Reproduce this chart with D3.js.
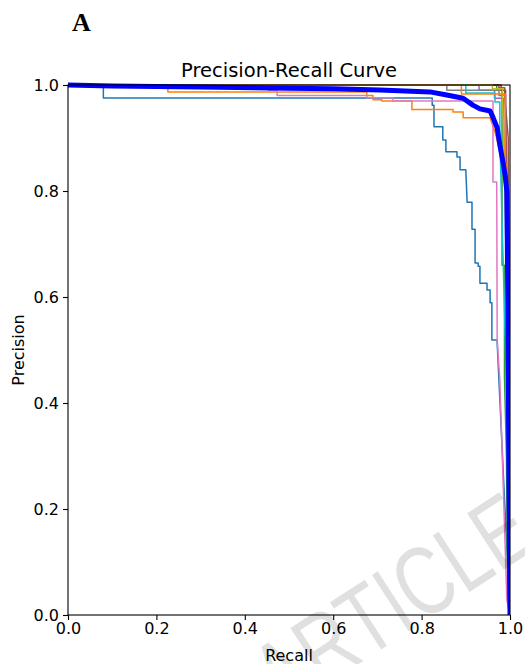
<!DOCTYPE html>
<html>
<head>
<meta charset="utf-8">
<script src="https://cdn.jsdelivr.net/npm/d3@7"></script>
<style>
  html, body { margin: 0; padding: 0; background: #fff; }
  svg { display: block; }
</style>
</head>
<body>
<svg id="chart" width="525" height="664"></svg>
<script>
// ---------------- data ----------------
const xTicks = [0.0, 0.2, 0.4, 0.6, 0.8, 1.0];
const yTicks = [0.0, 0.2, 0.4, 0.6, 0.8, 1.0];
const titleText = "Precision-Recall Curve";
const xLabel = "Recall";
const yLabel = "Precision";
const panelLabel = "A";
const watermarkText = "ACCEPTED ARTICLE PREVIEW";

// per-class curves: [recall, precision]
const class0 = [[0,1],[0.08,1],[0.08,0.9755],[0.824,0.9755],[0.824,0.962],[0.828,0.962],[0.828,0.921],
  [0.848,0.921],[0.848,0.896],[0.855,0.896],[0.855,0.874],[0.88,0.874],[0.88,0.864],[0.887,0.864],
  [0.887,0.840],[0.9,0.840],[0.903,0.779],[0.914,0.779],[0.914,0.728],[0.921,0.728],[0.921,0.664],
  [0.928,0.664],[0.928,0.658],[0.932,0.658],[0.932,0.626],[0.948,0.626],[0.948,0.613],[0.955,0.613],
  [0.955,0.589],[0.959,0.589],[0.959,0.519],[0.971,0.519],[0.971,0.513],[1.0,0.0]];
const class1 = [[0,1],[0.226,1],[0.226,0.987],[0.676,0.987],[0.676,0.980],[0.69,0.980],[0.69,0.972],
  [0.71,0.972],[0.71,0.970],[0.778,0.970],[0.778,0.954],[0.871,0.954],[0.871,0.949],[0.894,0.949],
  [0.894,0.938],[0.955,0.938],[0.968,0.906],[0.986,0.840],[0.993,0.755],[0.998,0.4],[1.0,0.0]];
const class2 = [[0,1],[0.97,1],[0.97,0.99],[0.982,0.99],[0.982,0.66],[0.9875,0.66],[0.9875,0.45],
  [0.992,0.3],[0.995,0.03],[1.0,0.0]];
const class3 = [[0,1],[0.98,1],[0.98,0.99],[0.99,0.99],[0.99,0.96],[0.997,0.6],[1.0,0.0]];
const class4 = [[0,1],[0.93,1],[0.93,0.99],[0.965,0.99],[0.965,0.975],[0.985,0.975],[0.985,0.95],
  [0.995,0.5],[1.0,0.0]];
const class5 = [[0,1],[0.975,1],[0.975,0.995],[0.988,0.995],[0.988,0.98],[0.996,0.9],[1.0,0.0]];
const class6 = [[0,1],[0.453,1],[0.453,0.99],[0.473,0.99],[0.473,0.98],[0.676,0.98],[0.676,0.976],
  [0.735,0.976],[0.735,0.970],[0.9615,0.970],[0.9615,0.817],[0.970,0.817],[0.971,0.52],[0.977,0.443],[0.993,0.028],[1.0,0.0]];
const class7 = [[0,1],[0.857,1],[0.857,0.99],[0.975,0.99],[0.975,0.98],[0.99,0.98],[0.99,0.9],[0.995,0.5],[1.0,0.0]];
const class8 = [[0,1],[0.96,1],[0.96,0.993],[0.983,0.993],[0.983,0.97],[0.995,0.7],[1.0,0.0]];
const class9 = [[0,1],[0.9,1],[0.9,0.985],[0.966,0.985],[0.966,0.968],[0.977,0.968],[0.977,0.9],[0.99,0.5],[1.0,0.0]];
const class10 = [[0,1],[0.89,1],[0.89,0.983],[0.989,0.983],[0.989,0.85],[0.993,0.85],[0.993,0.6],[0.997,0.3],[1.0,0.0]];
const average = [[0,1],[0.1,0.998],[0.3,0.996],[0.5,0.994],[0.6,0.993],[0.706,0.9906],[0.819,0.987],
  [0.857,0.981],[0.894,0.975],[0.916,0.962],[0.932,0.955],[0.955,0.951],[0.962,0.938],[0.971,0.919],
  [0.977,0.887],[0.984,0.855],[0.989,0.830],[0.993,0.798],[0.995,0.594],[0.998,0.217],[1.0,0.0]];

const classCurves = [class0, class1, class2, class3, class4, class5, class6, class7, class8, class9, class10];
const classColors = ["#1f77b4","#ff7f0e","#2ca02c","#d62728","#9467bd","#8c564b","#e377c2","#7f7f7f","#bcbd22","#17becf","#ff7f0e"];
const averageColor = "#0000ff";

// ---------------- layout ----------------
const svg = d3.select("#chart");
const M = {left: 68, right: 510, top: 85, bottom: 615};
const x = d3.scaleLinear().domain([0, 1]).range([M.left, M.right]);
const y = d3.scaleLinear().domain([0, 1]).range([M.bottom, M.top]);
const font = "'DejaVu Sans', sans-serif";

svg.append("defs").append("clipPath").attr("id", "plotclip")
  .append("rect").attr("x", M.left).attr("y", M.top - 3)
  .attr("width", M.right - M.left).attr("height", M.bottom - M.top + 3);

const line = d3.line().x(d => x(d[0])).y(d => y(d[1]));

const g = svg.append("g").attr("clip-path", "url(#plotclip)");
classCurves.forEach((c, i) => {
  g.append("path").datum(c).attr("d", line)
    .attr("fill", "none").attr("stroke", classColors[i]).attr("stroke-width", 1.5)
    .attr("stroke-linejoin", "round");
});
g.append("path").datum(average).attr("d", line)
  .attr("fill", "none").attr("stroke", averageColor).attr("stroke-width", 5)
  .attr("stroke-linejoin", "round");

// spines
svg.append("rect").attr("x", M.left).attr("y", M.top)
  .attr("width", M.right - M.left).attr("height", M.bottom - M.top)
  .attr("fill", "none").attr("stroke", "#000").attr("stroke-width", 1.1);

// axes
const xAxis = d3.axisBottom(x).tickValues(xTicks).tickFormat(d3.format(".1f")).tickSize(5).tickSizeOuter(0);
const yAxis = d3.axisLeft(y).tickValues(yTicks).tickFormat(d3.format(".1f")).tickSize(5).tickSizeOuter(0);
const gx = svg.append("g").attr("transform", `translate(0,${M.bottom})`).call(xAxis);
const gy = svg.append("g").attr("transform", `translate(${M.left},0)`).call(yAxis);
[gx, gy].forEach(a => {
  a.select(".domain").remove();
  a.selectAll(".tick line").attr("stroke", "#000").attr("stroke-width", 1.1);
  a.selectAll(".tick text").attr("fill", "#000").style("font-family", font).style("font-size", "16px");
});
gx.selectAll(".tick text").attr("dy", "0.71em").attr("y", 8);
gy.selectAll(".tick text").attr("x", -9);

// title and labels
svg.append("text").attr("x", (M.left + M.right) / 2).attr("y", 77)
  .attr("text-anchor", "middle").style("font-family", font).style("font-size", "19.5px")
  .text(titleText);
svg.append("text").attr("x", (M.left + M.right) / 2).attr("y", 661)
  .attr("text-anchor", "middle").style("font-family", font).style("font-size", "16px")
  .text(xLabel);
svg.append("text").attr("transform", `translate(24,${(M.top + M.bottom) / 2}) rotate(-90)`)
  .attr("text-anchor", "middle").style("font-family", font).style("font-size", "16px")
  .text(yLabel);

svg.append("text").attr("x", 72).attr("y", 31)
  .style("font-family", "'Liberation Serif', 'Times New Roman', serif")
  .style("font-weight", "bold").style("font-size", "26px")
  .text(panelLabel);

// watermark: anchored so that the "T" of ARTICLE is centred near (365, 618)
const wmSize = 98, wmAngle = -33, wmSqueeze = 0.75;
const wg = svg.append("g").attr("transform", `translate(365,618) rotate(${wmAngle}) scale(${wmSqueeze},1)`);
const wt = wg.append("text")
  .style("font-family", "'Liberation Sans', Arial, sans-serif")
  .style("font-size", wmSize + "px")
  .attr("fill", "#000").attr("fill-opacity", 0.12)
  .text(watermarkText);
const tIdx = watermarkText.indexOf("ARTICLE") + 2;
const node = wt.node();
const before = node.getSubStringLength(0, tIdx);
const tW = node.getSubStringLength(tIdx, 1);
wt.attr("x", -(before + tW / 2)).attr("y", wmSize * 0.716 / 2);
</script>
</body>
</html>
